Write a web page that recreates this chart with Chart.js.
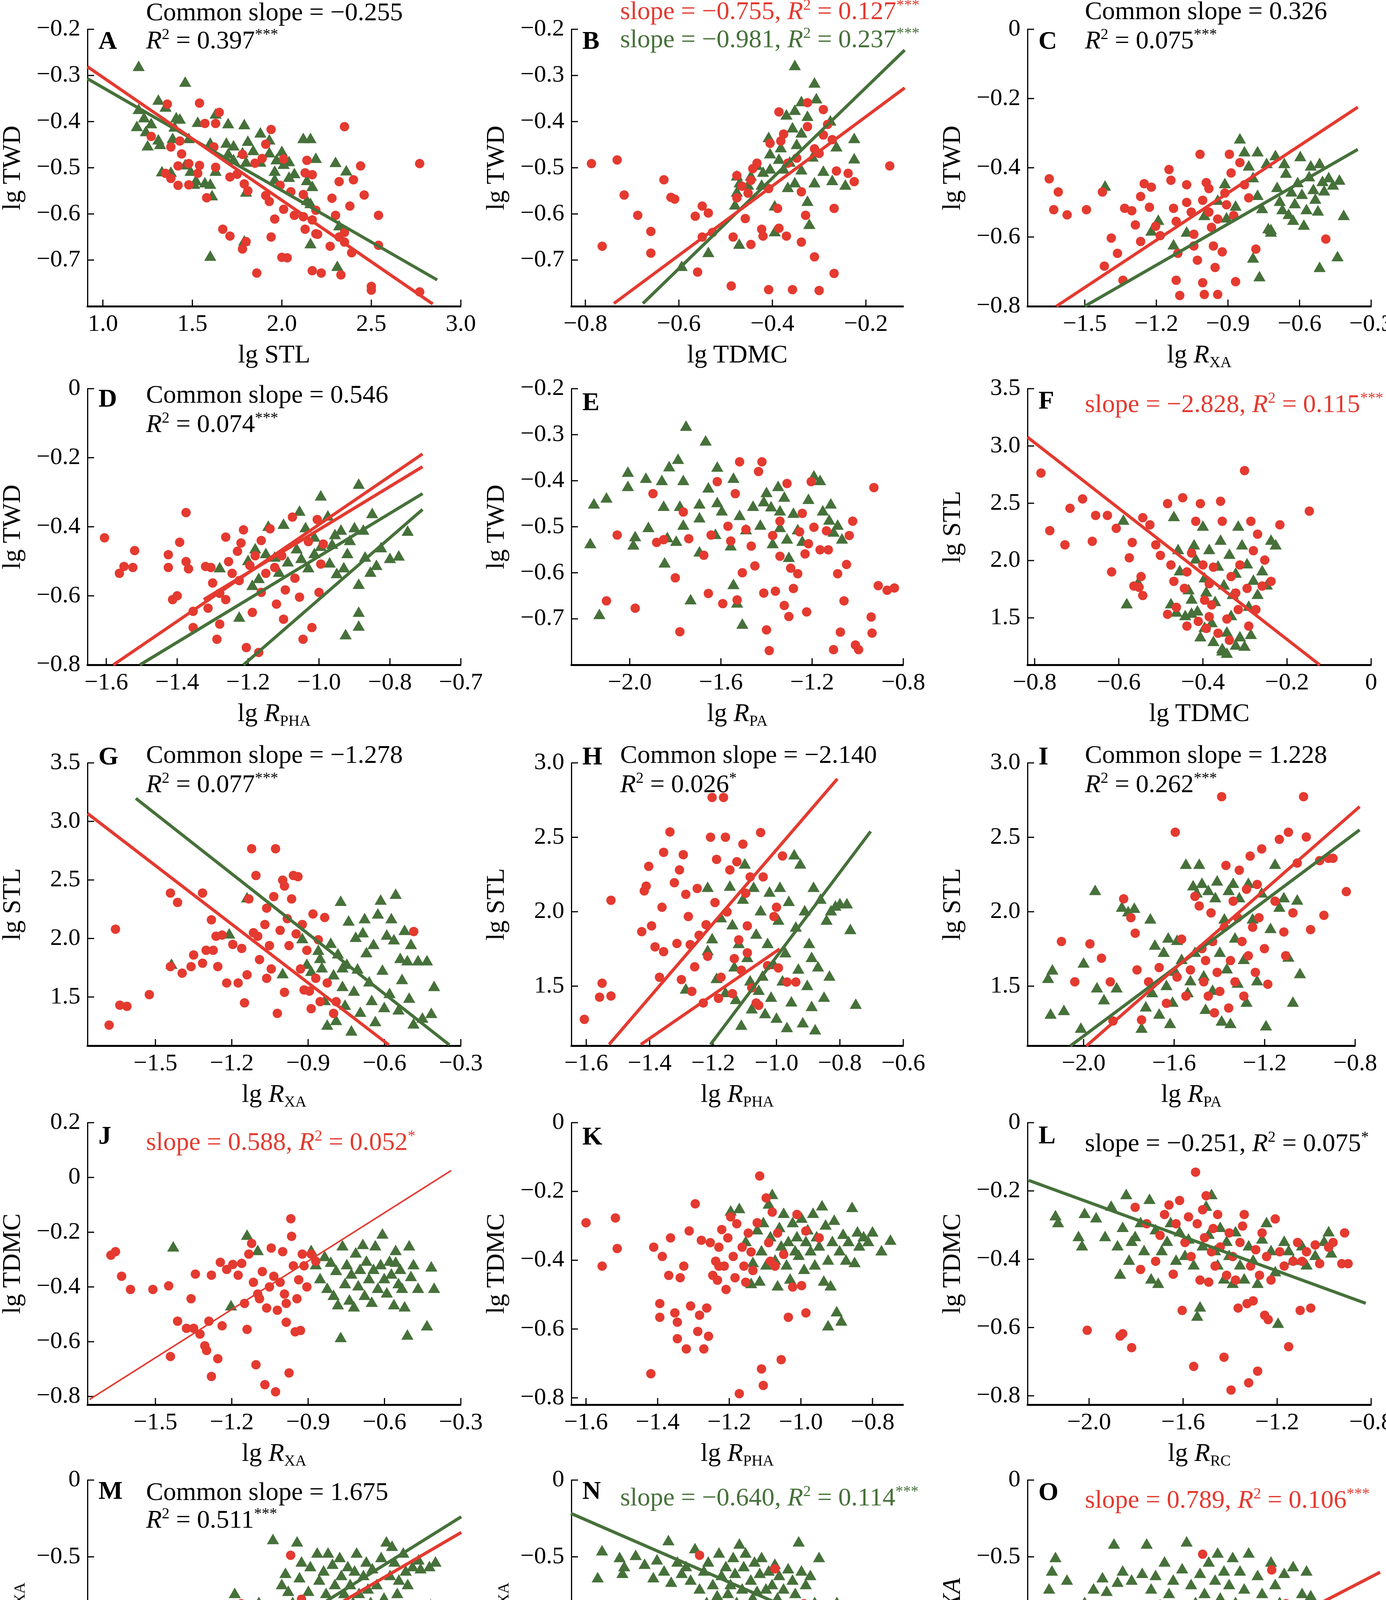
<!DOCTYPE html>
<html>
<head>
<meta charset="utf-8">
<script src="https://cdn.jsdelivr.net/npm/chart.js@4.4.0/dist/chart.umd.min.js"></script>
<style>
html, body { margin: 0; padding: 0; background: #fff; }
#page { position: relative; width: 3549px; height: 5561px; overflow: hidden; background: #fff; }
.txt { position: absolute; white-space: nowrap; line-height: 1; color: #000;
  font-family: 'Liberation Serif', 'Times New Roman', 'Noto Sans CJK SC', serif; }
.txt sup { font-size: 60%; vertical-align: 0.6em; line-height: 0; }
.txt sub { font-size: 60%; vertical-align: -0.3em; line-height: 0; }
</style>
</head>
<body>
<div id="page"></div>
<script>
const RED = '#E43A30';
const GREEN = '#46713A';
const FONT = "'Liberation Serif', 'Times New Roman', serif";

// ---- tick values ----
const tw_yTicks = [-0.2, -0.3, -0.4, -0.5, -0.6, -0.7];
const tw0_yTicks = [0, -0.2, -0.4, -0.6, -0.8];
const stl35_yTicks = [3.5, 3.0, 2.5, 2.0, 1.5];
const stl30_yTicks = [3.0, 2.5, 2.0, 1.5];
const rxa_yTicks = [0, -0.5, -1.0, -1.5];
const A_xTicks = [1.0, 1.5, 2.0, 2.5, 3.0];
const B_xTicks = [-0.8, -0.6, -0.4, -0.2];
const xa_xTicks = [-1.5, -1.2, -0.9, -0.6, -0.3];
const pha6_xTicks = [-1.6, -1.4, -1.2, -1.0, -0.8, -0.6];
const pha5_xTicks = [-1.6, -1.4, -1.2, -1.0, -0.8];
const r_xTicks = [-2.0, -1.6, -1.2, -0.8];
const F_xTicks = [-0.8, -0.6, -0.4, -0.2, 0];
const J_yTicks = [0.2, 0, -0.2, -0.4, -0.6, -0.8];
const P_yTicks = [-0.6, -0.8, -1.0, -1.2, -1.4, -1.6];
const Q_yTicks = [-0.5, -1.0, -1.5, -2.0];
const D_xLabels = ['−1.6', '−1.4', '−1.2', '−1.0', '−0.8', '−0.7'];

// ---- A: lg TWD vs lg STL ----
const A_annual = [[1.36,-0.362],[1.54,-0.360],[1.65,-0.380],[1.57,-0.404],[1.63,-0.404],[1.94,-0.417],[1.27,-0.432],[1.38,-0.455],[1.43,-0.442],[1.62,-0.455],[1.91,-0.449],[1.44,-0.470],[1.78,-0.471],[1.89,-0.480],[2.01,-0.481],[2.14,-0.484],[2.35,-0.411],[2.77,-0.491],[2.44,-0.496],[1.42,-0.496],[1.48,-0.491],[1.54,-0.495],[1.63,-0.499],[1.53,-0.512],[1.38,-0.523],[1.42,-0.538],[1.48,-0.537],[1.71,-0.520],[1.75,-0.514],[1.79,-0.535],[1.81,-0.550],[1.91,-0.560],[1.93,-0.573],[1.99,-0.538],[2.05,-0.552],[2.13,-0.511],[2.17,-0.515],[2.12,-0.558],[2.32,-0.530],[2.40,-0.526],[2.28,-0.566],[2.46,-0.559],[2.38,-0.583],[2.01,-0.590],[2.07,-0.603],[2.12,-0.606],[2.17,-0.613],[2.30,-0.603],[2.54,-0.603],[1.96,-0.611],[1.67,-0.633],[1.71,-0.648],[1.94,-0.650],[2.13,-0.633],[2.19,-0.643],[2.20,-0.644],[2.35,-0.640],[2.32,-0.650],[2.35,-0.661],[1.80,-0.660],[1.78,-0.676],[2.27,-0.670],[2.54,-0.668],[2.39,-0.684],[2.00,-0.694],[2.03,-0.695],[1.86,-0.728],[2.17,-0.723],[2.22,-0.728],[2.33,-0.732],[2.50,-0.765],[2.50,-0.757],[2.77,-0.769],[2.19,-0.592],[1.35,-0.512],[1.58,-0.565],[1.85,-0.490]];
const A_perennial = [[1.20,-0.283],[1.46,-0.317],[1.31,-0.356],[1.35,-0.371],[1.20,-0.376],[1.41,-0.394],[1.43,-0.397],[1.23,-0.394],[1.27,-0.407],[1.19,-0.413],[1.53,-0.404],[1.63,-0.386],[1.70,-0.407],[1.79,-0.409],[1.88,-0.427],[1.93,-0.442],[2.00,-0.467],[2.12,-0.439],[2.16,-0.439],[2.19,-0.482],[2.30,-0.491],[2.36,-0.509],[1.31,-0.442],[1.32,-0.452],[1.25,-0.455],[1.39,-0.439],[1.48,-0.439],[1.60,-0.449],[1.69,-0.449],[1.73,-0.455],[1.81,-0.445],[1.84,-0.465],[1.78,-0.470],[1.70,-0.472],[1.73,-0.485],[1.80,-0.490],[1.88,-0.490],[1.93,-0.470],[1.97,-0.485],[2.01,-0.495],[2.04,-0.489],[2.07,-0.515],[2.04,-0.523],[1.96,-0.510],[1.33,-0.511],[1.38,-0.512],[1.46,-0.496],[1.49,-0.510],[1.52,-0.530],[1.57,-0.535],[1.60,-0.538],[1.51,-0.538],[1.63,-0.510],[1.61,-0.563],[1.80,-0.555],[2.14,-0.530],[2.17,-0.543],[2.14,-0.573],[2.16,-0.580],[2.32,-0.628],[2.16,-0.667],[1.79,-0.661],[1.60,-0.694],[2.31,-0.716],[1.96,-0.528],[1.40,-0.414],[1.24,-0.424]];
const A_fitAnnual = [[0.914,-0.281],[2.843,-0.795]];
const A_fitPerennial = [[0.914,-0.307],[2.868,-0.743]];

// ---- B: lg TWD vs lg TDMC ----
const B_annual = [[-0.787,-0.491],[-0.732,-0.483],[-0.764,-0.670],[-0.717,-0.559],[-0.688,-0.603],[-0.660,-0.638],[-0.660,-0.685],[-0.632,-0.526],[-0.617,-0.564],[-0.609,-0.568],[-0.550,-0.583],[-0.537,-0.598],[-0.565,-0.605],[-0.560,-0.726],[-0.528,-0.640],[-0.550,-0.650],[-0.484,-0.650],[-0.488,-0.756],[-0.458,-0.610],[-0.476,-0.517],[-0.465,-0.540],[-0.446,-0.527],[-0.452,-0.555],[-0.442,-0.502],[-0.423,-0.633],[-0.420,-0.648],[-0.408,-0.764],[-0.446,-0.666],[-0.389,-0.588],[-0.386,-0.379],[-0.382,-0.442],[-0.386,-0.631],[-0.370,-0.648],[-0.357,-0.764],[-0.348,-0.479],[-0.338,-0.552],[-0.338,-0.661],[-0.329,-0.603],[-0.325,-0.411],[-0.310,-0.693],[-0.300,-0.766],[-0.300,-0.469],[-0.291,-0.429],[-0.282,-0.406],[-0.325,-0.359],[-0.291,-0.374],[-0.272,-0.439],[-0.268,-0.588],[-0.268,-0.729],[-0.263,-0.507],[-0.238,-0.512],[-0.225,-0.530],[-0.149,-0.496],[-0.376,-0.427],[-0.405,-0.447],[-0.433,-0.490],[-0.367,-0.490],[-0.310,-0.459],[-0.408,-0.545],[-0.476,-0.565]];
const B_perennial = [[-0.352,-0.281],[-0.310,-0.319],[-0.306,-0.353],[-0.338,-0.359],[-0.352,-0.378],[-0.370,-0.388],[-0.325,-0.391],[-0.276,-0.401],[-0.408,-0.437],[-0.357,-0.416],[-0.338,-0.427],[-0.225,-0.439],[-0.382,-0.459],[-0.348,-0.452],[-0.263,-0.457],[-0.405,-0.472],[-0.386,-0.484],[-0.363,-0.490],[-0.314,-0.479],[-0.225,-0.483],[-0.433,-0.497],[-0.405,-0.505],[-0.376,-0.505],[-0.338,-0.507],[-0.291,-0.510],[-0.420,-0.512],[-0.446,-0.520],[-0.476,-0.520],[-0.470,-0.535],[-0.452,-0.540],[-0.423,-0.540],[-0.352,-0.535],[-0.310,-0.535],[-0.272,-0.530],[-0.244,-0.540],[-0.476,-0.555],[-0.367,-0.545],[-0.325,-0.575],[-0.395,-0.585],[-0.480,-0.583],[-0.321,-0.625],[-0.471,-0.668],[-0.594,-0.716],[-0.537,-0.686],[-0.395,-0.641]];
const B_fitAnnual = [[-0.739,-0.794],[-0.117,-0.327]];
const B_fitPerennial = [[-0.677,-0.794],[-0.117,-0.245]];

// ---- C: lg TWD vs lg RXA ----
const C_annual = [[-1.649,-0.432],[-1.611,-0.470],[-1.630,-0.521],[-1.574,-0.536],[-1.493,-0.521],[-1.426,-0.470],[-1.389,-0.603],[-1.363,-0.647],[-1.418,-0.684],[-1.340,-0.725],[-1.333,-0.517],[-1.303,-0.524],[-1.288,-0.565],[-1.266,-0.613],[-1.251,-0.446],[-1.221,-0.456],[-1.266,-0.483],[-1.229,-0.514],[-1.203,-0.569],[-1.184,-0.596],[-1.147,-0.405],[-1.139,-0.436],[-1.128,-0.517],[-1.117,-0.555],[-1.110,-0.647],[-1.117,-0.725],[-1.102,-0.769],[-1.073,-0.449],[-1.054,-0.528],[-1.043,-0.592],[-1.043,-0.626],[-1.028,-0.667],[-1.017,-0.361],[-1.006,-0.494],[-1.006,-0.732],[-0.999,-0.766],[-0.991,-0.443],[-0.980,-0.528],[-0.969,-0.572],[-0.961,-0.626],[-0.954,-0.688],[-0.943,-0.766],[-0.924,-0.643],[-0.913,-0.473],[-0.906,-0.507],[-0.894,-0.361],[-0.887,-0.415],[-0.876,-0.538],[-0.868,-0.729],[-0.850,-0.385],[-0.831,-0.449],[-0.783,-0.635],[-0.813,-0.487],[-0.490,-0.606],[-0.980,-0.460],[-1.073,-0.500],[-0.943,-0.548]];
const C_perennial = [[-1.415,-0.456],[-1.192,-0.555],[-1.221,-0.586],[-1.128,-0.626],[-1.073,-0.589],[-0.999,-0.541],[-0.943,-0.497],[-0.913,-0.449],[-0.850,-0.320],[-0.831,-0.357],[-0.813,-0.398],[-0.795,-0.432],[-0.776,-0.483],[-0.757,-0.521],[-0.738,-0.391],[-0.731,-0.579],[-0.720,-0.582],[-0.701,-0.368],[-0.694,-0.460],[-0.683,-0.500],[-0.664,-0.391],[-0.657,-0.419],[-0.646,-0.538],[-0.634,-0.473],[-0.627,-0.555],[-0.620,-0.507],[-0.608,-0.446],[-0.597,-0.371],[-0.590,-0.480],[-0.582,-0.569],[-0.571,-0.524],[-0.560,-0.429],[-0.553,-0.398],[-0.542,-0.466],[-0.534,-0.494],[-0.523,-0.528],[-0.516,-0.391],[-0.504,-0.443],[-0.497,-0.470],[-0.478,-0.432],[-0.460,-0.453],[-0.433,-0.439],[-0.415,-0.541],[-0.441,-0.660],[-0.516,-0.691],[-0.768,-0.718],[-0.795,-0.664],[-0.720,-0.589],[-0.868,-0.514],[-0.776,-0.357],[-0.672,-0.524],[-0.906,-0.548]];
const C_fitAnnual = [[-1.619,-0.8],[-0.356,-0.225]];
const C_fitPerennial = [[-1.5,-0.8],[-0.356,-0.347]];

// ---- D: lg TWD vs lg RPHA ----
const D_annual = [[-1.605,-0.432],[-1.563,-0.535],[-1.550,-0.515],[-1.525,-0.518],[-1.520,-0.469],[-1.425,-0.481],[-1.425,-0.518],[-1.413,-0.611],[-1.400,-0.600],[-1.393,-0.445],[-1.375,-0.359],[-1.375,-0.501],[-1.368,-0.522],[-1.355,-0.645],[-1.355,-0.692],[-1.320,-0.515],[-1.313,-0.636],[-1.305,-0.518],[-1.300,-0.563],[-1.288,-0.726],[-1.280,-0.682],[-1.280,-0.593],[-1.263,-0.430],[-1.255,-0.501],[-1.245,-0.535],[-1.230,-0.471],[-1.220,-0.447],[-1.213,-0.409],[-1.205,-0.750],[-1.195,-0.512],[-1.188,-0.648],[-1.180,-0.484],[-1.170,-0.764],[-1.163,-0.440],[-1.150,-0.535],[-1.138,-0.406],[-1.125,-0.518],[-1.120,-0.624],[-1.105,-0.484],[-1.100,-0.668],[-1.095,-0.583],[-1.075,-0.372],[-1.068,-0.549],[-1.055,-0.604],[-1.045,-0.726],[-1.030,-0.443],[-1.020,-0.692],[-1.005,-0.379],[-1.000,-0.590],[-0.988,-0.450],[-0.995,-0.508],[-1.163,-0.590],[-1.225,-0.556],[-1.263,-0.611]];
const D_perennial = [[-0.888,-0.280],[-0.995,-0.314],[-1.143,-0.402],[-1.100,-0.396],[-1.055,-0.358],[-1.038,-0.406],[-0.975,-0.372],[-0.955,-0.426],[-0.938,-0.413],[-0.900,-0.406],[-0.875,-0.413],[-0.850,-0.365],[-0.750,-0.416],[-0.775,-0.488],[-0.800,-0.495],[-0.838,-0.515],[-0.855,-0.535],[-0.825,-0.464],[-0.888,-0.570],[-0.920,-0.481],[-0.930,-0.522],[-0.950,-0.539],[-0.995,-0.460],[-1.013,-0.481],[-1.030,-0.522],[-1.063,-0.467],[-1.088,-0.505],[-1.113,-0.535],[-1.150,-0.481],[-1.170,-0.553],[-1.188,-0.573],[-1.225,-0.665],[-1.280,-0.522],[-1.180,-0.467],[-0.888,-0.651],[-0.888,-0.691],[-0.925,-0.716],[-1.013,-0.433],[-0.963,-0.454],[-0.913,-0.443],[-0.870,-0.491],[-0.970,-0.508],[-1.050,-0.495],[-1.125,-0.491],[-1.200,-0.501]];
const D_fitAnnual1 = [[-1.580,-0.8],[-0.708,-0.189]];
const D_fitAnnual2 = [[-1.325,-0.611],[-0.708,-0.226]];
const D_fitPerennial1 = [[-1.505,-0.8],[-0.708,-0.304]];
const D_fitPerennial2 = [[-1.213,-0.8],[-0.708,-0.350]];

// ---- E: lg TWD vs lg RPA ----
const E_annual = [[-2.055,-0.518],[-1.976,-0.677],[-2.102,-0.661],[-1.898,-0.428],[-1.851,-0.528],[-1.882,-0.534],[-1.800,-0.611],[-1.780,-0.728],[-1.765,-0.468],[-1.741,-0.526],[-1.675,-0.562],[-1.655,-0.645],[-1.643,-0.518],[-1.616,-0.402],[-1.592,-0.667],[-1.569,-0.499],[-1.557,-0.531],[-1.537,-0.428],[-1.529,-0.659],[-1.518,-0.359],[-1.506,-0.600],[-1.490,-0.506],[-1.467,-0.542],[-1.451,-0.585],[-1.435,-0.380],[-1.420,-0.359],[-1.412,-0.644],[-1.400,-0.724],[-1.388,-0.769],[-1.373,-0.519],[-1.361,-0.640],[-1.341,-0.564],[-1.322,-0.671],[-1.310,-0.406],[-1.302,-0.695],[-1.294,-0.590],[-1.282,-0.634],[-1.263,-0.602],[-1.255,-0.511],[-1.243,-0.471],[-1.231,-0.559],[-1.224,-0.685],[-1.216,-0.537],[-1.204,-0.402],[-1.192,-0.501],[-1.165,-0.550],[-1.137,-0.509],[-1.129,-0.550],[-1.106,-0.767],[-1.088,-0.602],[-1.076,-0.729],[-1.060,-0.661],[-1.049,-0.582],[-1.037,-0.519],[-1.022,-0.488],[-1.010,-0.757],[-0.996,-0.767],[-0.941,-0.696],[-0.937,-0.731],[-0.929,-0.415],[-0.910,-0.628],[-0.871,-0.638],[-0.839,-0.633],[-1.341,-0.488]];
const E_perennial = [[-1.753,-0.284],[-1.667,-0.316],[-1.788,-0.356],[-1.827,-0.372],[-1.616,-0.373],[-2.008,-0.384],[-1.929,-0.397],[-2.008,-0.415],[-2.102,-0.440],[-2.157,-0.453],[-1.859,-0.402],[-1.765,-0.402],[-1.655,-0.418],[-1.545,-0.397],[-1.851,-0.458],[-1.780,-0.458],[-1.694,-0.453],[-1.616,-0.450],[-1.918,-0.504],[-1.976,-0.524],[-1.984,-0.542],[-2.173,-0.539],[-1.835,-0.526],[-1.796,-0.534],[-1.694,-0.557],[-1.847,-0.581],[-1.765,-0.499],[-1.694,-0.483],[-1.624,-0.519],[-1.596,-0.468],[-1.557,-0.544],[-1.518,-0.478],[-1.490,-0.509],[-1.459,-0.458],[-1.427,-0.499],[-1.412,-0.448],[-1.400,-0.428],[-1.380,-0.459],[-1.373,-0.539],[-1.349,-0.415],[-1.341,-0.504],[-1.322,-0.438],[-1.310,-0.529],[-1.302,-0.569],[-1.282,-0.473],[-1.263,-0.509],[-1.243,-0.534],[-1.216,-0.443],[-1.192,-0.392],[-1.165,-0.402],[-1.153,-0.468],[-1.125,-0.488],[-1.106,-0.514],[-1.088,-0.499],[-1.069,-0.529],[-1.118,-0.453],[-1.545,-0.628],[-1.733,-0.661],[-1.529,-0.668],[-1.506,-0.714],[-2.133,-0.693],[-1.341,-0.468]];

// ---- F: lg STL vs lg TDMC ----
const F_annual = [[-0.785,2.764],[-0.764,2.261],[-0.728,2.137],[-0.716,2.456],[-0.686,2.538],[-0.655,2.394],[-0.663,2.168],[-0.627,2.394],[-0.617,1.901],[-0.606,2.281],[-0.575,2.024],[-0.568,2.158],[-0.564,1.778],[-0.552,1.767],[-0.547,1.860],[-0.543,1.695],[-0.543,2.374],[-0.526,2.312],[-0.512,2.137],[-0.501,2.045],[-0.484,2.497],[-0.476,1.962],[-0.469,1.819],[-0.463,1.592],[-0.448,2.548],[-0.444,1.757],[-0.438,1.901],[-0.427,2.066],[-0.417,2.343],[-0.411,1.469],[-0.406,2.497],[-0.400,1.962],[-0.396,1.654],[-0.392,1.408],[-0.385,1.798],[-0.379,1.613],[-0.375,1.942],[-0.364,1.366],[-0.358,2.517],[-0.354,2.343],[-0.343,1.490],[-0.337,1.305],[-0.333,1.860],[-0.322,1.716],[-0.316,1.572],[-0.312,1.962],[-0.301,2.785],[-0.295,1.757],[-0.291,1.428],[-0.286,2.343],[-0.280,2.086],[-0.274,1.572],[-0.270,2.230],[-0.259,1.778],[-0.253,2.004],[-0.238,1.819],[-0.217,2.312],[-0.147,2.431],[-0.438,1.428],[-0.484,1.531],[-0.385,1.510]];
const F_perennial = [[-0.589,2.343],[-0.581,1.613],[-0.554,1.798],[-0.476,1.613],[-0.469,2.374],[-0.463,1.541],[-0.459,2.086],[-0.455,1.901],[-0.442,1.510],[-0.434,1.736],[-0.427,1.654],[-0.421,2.127],[-0.417,2.004],[-0.413,1.551],[-0.406,1.325],[-0.400,2.291],[-0.396,1.840],[-0.392,1.716],[-0.385,2.086],[-0.379,1.449],[-0.375,1.284],[-0.371,1.633],[-0.364,1.942],[-0.358,2.168],[-0.354,1.222],[-0.350,1.778],[-0.343,1.366],[-0.337,2.045],[-0.333,1.510],[-0.329,1.695],[-0.322,1.880],[-0.316,2.291],[-0.312,1.325],[-0.307,2.127],[-0.301,1.243],[-0.295,1.962],[-0.291,1.592],[-0.286,1.346],[-0.280,1.819],[-0.270,1.695],[-0.259,1.901],[-0.248,1.778],[-0.238,2.168],[-0.227,2.127],[-0.354,1.202],[-0.343,1.181],[-0.322,1.253],[-0.396,1.408],[-0.427,1.531]];
const F_fitAnnual = [[-0.817,3.077],[-0.122,1.089]];

// ---- G: lg STL vs lg RXA ----
const G_annual = [[-1.682,1.260],[-1.640,1.430],[-1.612,1.420],[-1.657,2.079],[-1.524,1.520],[-1.441,1.760],[-1.441,2.388],[-1.413,2.308],[-1.395,1.704],[-1.360,1.760],[-1.350,1.859],[-1.315,1.789],[-1.315,2.388],[-1.301,1.899],[-1.280,2.159],[-1.273,1.899],[-1.262,2.019],[-1.255,1.760],[-1.238,2.029],[-1.220,1.620],[-1.196,1.949],[-1.175,1.620],[-1.161,1.915],[-1.150,1.450],[-1.140,1.690],[-1.133,2.338],[-1.122,2.767],[-1.115,2.049],[-1.105,2.538],[-1.098,2.019],[-1.091,1.820],[-1.070,2.119],[-1.063,2.259],[-1.052,1.939],[-1.045,1.740],[-1.035,2.358],[-1.028,2.767],[-1.021,1.360],[-1.010,2.069],[-1.000,2.498],[-0.993,2.448],[-0.982,2.169],[-0.975,1.939],[-0.965,2.338],[-0.958,2.538],[-0.947,2.039],[-0.940,2.528],[-0.930,1.740],[-0.923,2.119],[-0.916,1.560],[-0.905,1.899],[-0.895,1.550],[-0.888,1.400],[-0.881,2.209],[-0.870,1.660],[-0.860,1.989],[-0.853,1.460],[-0.835,2.179],[-0.825,1.620],[-0.800,1.360],[-0.790,1.460],[-0.485,2.059],[-0.993,1.540],[-1.063,1.660]];
const G_perennial = [[-1.437,1.770],[-1.210,2.029],[-1.140,2.338],[-1.000,1.690],[-0.923,1.989],[-0.905,1.770],[-0.888,1.710],[-0.860,1.889],[-0.846,1.740],[-0.835,1.460],[-0.825,1.250],[-0.811,1.949],[-0.800,1.680],[-0.790,1.290],[-0.783,1.859],[-0.772,2.308],[-0.765,1.580],[-0.755,1.420],[-0.748,1.770],[-0.741,2.139],[-0.730,1.200],[-0.720,1.540],[-0.713,2.000],[-0.706,1.730],[-0.695,1.360],[-0.685,2.039],[-0.678,2.159],[-0.671,1.869],[-0.660,1.620],[-0.650,1.460],[-0.643,1.939],[-0.636,1.280],[-0.626,2.199],[-0.615,2.318],[-0.608,1.720],[-0.601,1.400],[-0.591,2.019],[-0.580,1.520],[-0.573,2.159],[-0.563,1.979],[-0.556,2.368],[-0.545,1.380],[-0.538,1.820],[-0.531,1.640],[-0.521,2.059],[-0.510,1.800],[-0.503,1.480],[-0.496,1.939],[-0.486,1.260],[-0.468,1.800],[-0.451,1.310],[-0.433,1.800],[-0.416,1.350],[-0.405,1.580],[-0.765,1.740],[-0.853,1.820]];
const G_fitAnnual = [[-1.766,3.067],[-0.583,1.091]];
const G_fitPerennial = [[-1.577,3.197],[-0.345,1.091]];

// ---- H: lg STL vs lg RPHA ----
const H_annual = [[-1.606,1.277],[-1.558,1.426],[-1.550,1.520],[-1.522,1.434],[-1.522,2.077],[-1.425,1.866],[-1.417,2.140],[-1.411,2.172],[-1.403,2.305],[-1.394,1.905],[-1.383,1.764],[-1.369,1.560],[-1.361,2.030],[-1.356,1.732],[-1.356,2.399],[-1.336,2.536],[-1.322,2.195],[-1.314,1.787],[-1.306,2.281],[-1.300,1.544],[-1.294,2.383],[-1.286,2.117],[-1.278,1.968],[-1.272,1.779],[-1.267,1.465],[-1.258,1.630],[-1.250,2.156],[-1.244,1.842],[-1.231,1.387],[-1.222,1.913],[-1.217,1.701],[-1.208,2.501],[-1.203,2.768],[-1.194,2.062],[-1.189,2.352],[-1.183,1.418],[-1.175,1.560],[-1.167,2.768],[-1.161,2.501],[-1.156,1.999],[-1.147,2.281],[-1.139,1.450],[-1.133,1.685],[-1.125,2.336],[-1.119,1.811],[-1.111,1.607],[-1.106,2.454],[-1.097,2.124],[-1.092,1.724],[-1.083,2.234],[-1.078,1.489],[-1.064,1.387],[-1.056,1.371],[-1.050,2.532],[-1.042,2.234],[-1.028,1.638],[-1.008,1.968],[-1.000,2.030],[-0.994,1.622],[-0.981,2.375],[-0.967,1.528],[-0.939,1.528],[-1.092,1.905]];
const H_perennial = [[-1.286,1.473],[-1.217,2.156],[-1.217,1.732],[-1.203,1.811],[-1.189,1.544],[-1.175,1.952],[-1.161,1.450],[-1.147,2.164],[-1.139,1.905],[-1.133,1.622],[-1.128,1.403],[-1.119,1.779],[-1.111,1.230],[-1.106,2.077],[-1.100,2.313],[-1.092,1.685],[-1.083,1.528],[-1.078,1.340],[-1.072,2.156],[-1.064,1.842],[-1.056,1.465],[-1.050,1.999],[-1.044,1.560],[-1.036,1.308],[-1.028,1.779],[-1.022,2.124],[-1.017,1.418],[-1.008,1.638],[-1.000,1.277],[-0.994,1.936],[-0.989,2.156],[-0.981,1.528],[-0.972,1.717],[-0.967,1.214],[-0.961,2.062],[-0.953,1.387],[-0.944,2.375],[-0.939,1.889],[-0.931,1.607],[-0.925,2.313],[-0.917,1.246],[-0.911,1.999],[-0.903,1.497],[-0.897,1.779],[-0.889,1.356],[-0.883,2.156],[-0.878,1.199],[-0.869,1.622],[-0.861,2.077],[-0.850,1.418],[-0.842,1.936],[-0.833,1.560],[-0.828,1.999],[-0.814,2.030],[-0.800,2.046],[-0.778,2.046],[-0.767,1.873],[-0.750,1.371],[-0.889,1.685]];
const H_fitAnnual1 = [[-1.528,1.108],[-0.808,2.893]];
const H_fitAnnual2 = [[-1.428,1.108],[-0.990,1.750]];
const H_fitPerennial = [[-1.208,1.108],[-0.703,2.540]];

// ---- I: lg STL vs lg RPA ----
const I_annual = [[-2.098,1.800],[-1.972,1.784],[-1.921,1.688],[-2.039,1.529],[-1.882,1.529],[-1.870,1.266],[-1.823,2.087],[-1.791,1.960],[-1.772,1.856],[-1.764,1.609],[-1.744,1.273],[-1.713,1.529],[-1.666,1.625],[-1.634,1.385],[-1.595,2.534],[-1.587,1.561],[-1.567,1.816],[-1.548,1.433],[-1.528,1.609],[-1.508,2.103],[-1.489,2.039],[-1.477,1.752],[-1.469,1.529],[-1.461,1.672],[-1.449,1.433],[-1.437,1.992],[-1.430,1.800],[-1.422,1.321],[-1.410,1.593],[-1.398,1.465],[-1.390,2.773],[-1.378,1.896],[-1.371,2.311],[-1.359,1.353],[-1.351,1.672],[-1.339,2.071],[-1.331,1.529],[-1.319,1.960],[-1.312,2.279],[-1.300,1.800],[-1.292,1.433],[-1.280,2.151],[-1.272,1.704],[-1.264,2.374],[-1.253,1.896],[-1.241,1.593],[-1.233,2.183],[-1.225,1.960],[-1.213,2.422],[-1.201,1.752],[-1.186,1.513],[-1.154,2.071],[-1.135,2.486],[-1.115,1.864],[-1.095,2.534],[-1.075,1.992],[-1.056,2.327],[-1.028,2.773],[-1.016,2.502],[-0.997,1.880],[-0.957,2.343],[-0.938,1.976],[-0.918,2.359],[-0.898,2.359],[-0.839,2.135],[-1.107,1.704]];
const I_perennial = [[-2.157,1.545],[-2.138,1.601],[-2.146,1.305],[-2.087,1.329],[-2.012,1.210],[-2.000,1.648],[-1.949,2.135],[-1.941,1.481],[-1.910,1.401],[-1.854,1.481],[-1.831,2.023],[-1.803,1.992],[-1.776,2.016],[-1.744,1.210],[-1.725,1.353],[-1.705,1.944],[-1.697,1.449],[-1.685,1.768],[-1.666,1.305],[-1.646,1.720],[-1.634,1.497],[-1.626,1.816],[-1.618,1.242],[-1.607,1.385],[-1.595,1.593],[-1.587,1.800],[-1.567,1.672],[-1.548,2.311],[-1.540,1.449],[-1.528,1.529],[-1.516,2.167],[-1.508,1.720],[-1.500,2.119],[-1.489,2.311],[-1.477,2.183],[-1.469,1.561],[-1.461,1.337],[-1.449,2.135],[-1.437,1.800],[-1.430,1.465],[-1.418,2.087],[-1.410,2.199],[-1.398,1.720],[-1.390,1.258],[-1.378,1.944],[-1.367,1.609],[-1.359,2.135],[-1.351,1.242],[-1.339,2.183],[-1.331,1.816],[-1.319,1.513],[-1.312,2.087],[-1.292,1.672],[-1.280,1.385],[-1.272,2.183],[-1.253,1.944],[-1.233,1.529],[-1.213,2.119],[-1.194,1.226],[-1.174,1.880],[-1.154,2.311],[-1.135,2.023],[-1.115,2.087],[-1.095,1.688],[-1.075,1.385],[-1.056,2.071],[-1.044,1.577]];
const I_fitAnnual = [[-1.988,1.098],[-0.780,2.706]];
const I_fitPerennial = [[-2.059,1.098],[-0.780,2.550]];

// ---- J: lg TDMC vs lg RXA ----
const J_annual = [[-1.675,-0.284],[-1.657,-0.271],[-1.633,-0.361],[-1.598,-0.409],[-1.510,-0.409],[-1.441,-0.654],[-1.448,-0.396],[-1.413,-0.525],[-1.378,-0.551],[-1.360,-0.443],[-1.350,-0.551],[-1.343,-0.353],[-1.325,-0.572],[-1.306,-0.615],[-1.299,-0.632],[-1.290,-0.525],[-1.280,-0.357],[-1.280,-0.727],[-1.255,-0.662],[-1.245,-0.310],[-1.238,-0.542],[-1.220,-0.336],[-1.196,-0.318],[-1.175,-0.357],[-1.161,-0.314],[-1.150,-0.460],[-1.140,-0.555],[-1.133,-0.280],[-1.122,-0.241],[-1.115,-0.383],[-1.105,-0.684],[-1.098,-0.426],[-1.091,-0.443],[-1.080,-0.344],[-1.070,-0.757],[-1.063,-0.477],[-1.052,-0.400],[-1.045,-0.258],[-1.035,-0.361],[-1.028,-0.783],[-1.021,-0.485],[-1.010,-0.383],[-1.000,-0.271],[-0.993,-0.426],[-0.986,-0.460],[-0.975,-0.714],[-0.968,-0.151],[-0.965,-0.215],[-0.958,-0.323],[-0.951,-0.564],[-0.944,-0.443],[-0.937,-0.374],[-0.930,-0.559],[-0.923,-0.280],[-0.916,-0.323],[-0.905,-0.400],[-0.888,-0.280],[-0.870,-0.306],[-0.986,-0.529]];
const J_perennial = [[-1.430,-0.258],[-1.203,-0.473],[-1.140,-0.215],[-1.098,-0.271],[-0.888,-0.271],[-0.870,-0.323],[-0.853,-0.374],[-0.835,-0.293],[-0.825,-0.409],[-0.811,-0.314],[-0.800,-0.435],[-0.790,-0.344],[-0.783,-0.469],[-0.772,-0.589],[-0.765,-0.254],[-0.755,-0.392],[-0.748,-0.323],[-0.738,-0.452],[-0.730,-0.357],[-0.720,-0.477],[-0.713,-0.280],[-0.703,-0.400],[-0.696,-0.340],[-0.685,-0.249],[-0.678,-0.435],[-0.671,-0.310],[-0.661,-0.374],[-0.650,-0.460],[-0.643,-0.340],[-0.636,-0.254],[-0.626,-0.409],[-0.615,-0.323],[-0.608,-0.211],[-0.601,-0.374],[-0.591,-0.426],[-0.580,-0.310],[-0.573,-0.357],[-0.563,-0.469],[-0.556,-0.271],[-0.545,-0.392],[-0.538,-0.340],[-0.531,-0.409],[-0.521,-0.477],[-0.510,-0.580],[-0.503,-0.254],[-0.496,-0.366],[-0.486,-0.323],[-0.468,-0.409],[-0.433,-0.546],[-0.416,-0.331],[-0.405,-0.409],[-0.556,-0.314]];
const J_fitAnnual = [[-1.759,-0.811],[-0.338,0.025]];

// ---- K: lg TDMC vs lg RPHA ----
const K_annual = [[-1.600,-0.291],[-1.518,-0.277],[-1.513,-0.366],[-1.555,-0.417],[-1.419,-0.730],[-1.411,-0.362],[-1.394,-0.526],[-1.394,-0.566],[-1.387,-0.389],[-1.369,-0.444],[-1.364,-0.335],[-1.352,-0.553],[-1.345,-0.628],[-1.345,-0.580],[-1.337,-0.451],[-1.327,-0.417],[-1.320,-0.658],[-1.312,-0.315],[-1.308,-0.533],[-1.295,-0.236],[-1.288,-0.607],[-1.283,-0.560],[-1.278,-0.342],[-1.271,-0.658],[-1.263,-0.539],[-1.258,-0.621],[-1.253,-0.349],[-1.246,-0.444],[-1.238,-0.403],[-1.233,-0.458],[-1.229,-0.362],[-1.221,-0.311],[-1.214,-0.417],[-1.209,-0.485],[-1.204,-0.335],[-1.196,-0.274],[-1.189,-0.389],[-1.184,-0.451],[-1.179,-0.294],[-1.172,-0.788],[-1.164,-0.362],[-1.159,-0.417],[-1.154,-0.464],[-1.147,-0.321],[-1.139,-0.376],[-1.134,-0.430],[-1.122,-0.291],[-1.115,-0.155],[-1.110,-0.716],[-1.105,-0.764],[-1.097,-0.219],[-1.090,-0.349],[-1.085,-0.403],[-1.080,-0.260],[-1.072,-0.417],[-1.065,-0.321],[-1.055,-0.689],[-1.048,-0.383],[-1.035,-0.566],[-1.023,-0.478],[-1.011,-0.267],[-0.998,-0.474],[-0.986,-0.553],[-0.949,-0.335],[-0.986,-0.315],[-1.229,-0.417]];
const K_perennial = [[-1.196,-0.260],[-1.172,-0.253],[-1.154,-0.349],[-1.139,-0.471],[-1.134,-0.410],[-1.122,-0.315],[-1.115,-0.464],[-1.110,-0.376],[-1.105,-0.294],[-1.097,-0.417],[-1.090,-0.240],[-1.085,-0.335],[-1.080,-0.212],[-1.072,-0.403],[-1.065,-0.478],[-1.060,-0.308],[-1.055,-0.362],[-1.048,-0.267],[-1.040,-0.417],[-1.035,-0.349],[-1.030,-0.458],[-1.023,-0.294],[-1.016,-0.376],[-1.011,-0.335],[-1.006,-0.389],[-0.998,-0.281],[-0.991,-0.430],[-0.986,-0.349],[-0.981,-0.315],[-0.973,-0.376],[-0.966,-0.267],[-0.961,-0.417],[-0.956,-0.335],[-0.949,-0.362],[-0.941,-0.245],[-0.936,-0.464],[-0.931,-0.301],[-0.924,-0.403],[-0.917,-0.478],[-0.912,-0.349],[-0.907,-0.287],[-0.900,-0.553],[-0.892,-0.376],[-0.887,-0.580],[-0.882,-0.328],[-0.874,-0.403],[-0.867,-0.349],[-0.857,-0.250],[-0.850,-0.410],[-0.842,-0.321],[-0.837,-0.362],[-0.825,-0.335],[-0.812,-0.349],[-0.775,-0.376],[-0.750,-0.345],[-0.800,-0.321],[-0.924,-0.594]];

// ---- L: lg TDMC vs lg RRC ----
const L_annual = [[-2.008,-0.608],[-1.868,-0.625],[-1.857,-0.618],[-1.819,-0.659],[-1.804,-0.248],[-1.781,-0.430],[-1.755,-0.296],[-1.717,-0.406],[-1.698,-0.330],[-1.679,-0.269],[-1.660,-0.241],[-1.642,-0.444],[-1.630,-0.296],[-1.615,-0.228],[-1.604,-0.550],[-1.592,-0.351],[-1.577,-0.276],[-1.566,-0.392],[-1.555,-0.714],[-1.547,-0.145],[-1.540,-0.296],[-1.528,-0.461],[-1.517,-0.255],[-1.509,-0.337],[-1.502,-0.214],[-1.491,-0.467],[-1.479,-0.378],[-1.472,-0.310],[-1.464,-0.420],[-1.453,-0.269],[-1.442,-0.364],[-1.426,-0.687],[-1.415,-0.447],[-1.404,-0.323],[-1.396,-0.783],[-1.389,-0.392],[-1.377,-0.461],[-1.366,-0.543],[-1.358,-0.351],[-1.347,-0.303],[-1.340,-0.269],[-1.328,-0.530],[-1.321,-0.762],[-1.313,-0.420],[-1.302,-0.522],[-1.291,-0.372],[-1.283,-0.728],[-1.275,-0.447],[-1.264,-0.323],[-1.253,-0.564],[-1.245,-0.392],[-1.238,-0.577],[-1.226,-0.461],[-1.208,-0.282],[-1.189,-0.378],[-1.170,-0.420],[-1.151,-0.656],[-1.132,-0.406],[-1.113,-0.351],[-1.102,-0.550],[-1.094,-0.406],[-1.075,-0.378],[-1.057,-0.543],[-1.038,-0.358],[-1.019,-0.413],[-0.981,-0.365],[-0.962,-0.351],[-0.925,-0.413],[-0.913,-0.323],[-0.898,-0.413]];
const L_perennial = [[-2.143,-0.276],[-2.132,-0.296],[-2.045,-0.337],[-2.030,-0.364],[-2.019,-0.269],[-1.970,-0.282],[-1.932,-0.337],[-1.906,-0.248],[-1.879,-0.364],[-1.868,-0.447],[-1.857,-0.310],[-1.842,-0.214],[-1.830,-0.406],[-1.819,-0.351],[-1.804,-0.337],[-1.781,-0.296],[-1.766,-0.378],[-1.743,-0.228],[-1.736,-0.461],[-1.717,-0.317],[-1.706,-0.474],[-1.691,-0.378],[-1.668,-0.351],[-1.653,-0.296],[-1.630,-0.406],[-1.615,-0.323],[-1.592,-0.392],[-1.577,-0.344],[-1.555,-0.420],[-1.540,-0.570],[-1.528,-0.543],[-1.517,-0.364],[-1.502,-0.248],[-1.491,-0.330],[-1.479,-0.214],[-1.464,-0.378],[-1.453,-0.420],[-1.442,-0.310],[-1.426,-0.461],[-1.415,-0.351],[-1.404,-0.392],[-1.389,-0.474],[-1.377,-0.323],[-1.358,-0.420],[-1.340,-0.461],[-1.321,-0.364],[-1.302,-0.406],[-1.283,-0.474],[-1.264,-0.344],[-1.245,-0.296],[-1.226,-0.378],[-1.208,-0.440],[-1.196,-0.591],[-1.170,-0.351],[-1.151,-0.378],[-1.132,-0.406],[-1.094,-0.364],[-1.075,-0.420],[-1.038,-0.392],[-1.000,-0.351],[-0.981,-0.323],[-0.970,-0.385]];
const L_fitPerennial = [[-2.257,-0.169],[-0.823,-0.529]];

// ---- M: lg RXA vs lg RPHA ----
const M_annual = [[-1.598,-1.668],[-1.549,-1.595],[-1.544,-1.515],[-1.517,-1.639],[-1.510,-1.625],[-1.417,-1.288],[-1.406,-1.332],[-1.395,-1.412],[-1.388,-1.149],[-1.373,-1.368],[-1.362,-1.149],[-1.355,-0.907],[-1.346,-1.390],[-1.333,-0.951],[-1.320,-1.266],[-1.307,-0.973],[-1.296,-1.127],[-1.284,-1.302],[-1.278,-1.354],[-1.267,-0.937],[-1.263,-1.442],[-1.258,-0.805],[-1.252,-1.010],[-1.241,-1.273],[-1.229,-0.900],[-1.223,-1.442],[-1.219,-1.215],[-1.214,-0.834],[-1.208,-0.951],[-1.201,-1.083],[-1.197,-0.863],[-1.190,-1.141],[-1.186,-0.981],[-1.179,-1.215],[-1.175,-0.893],[-1.170,-1.068],[-1.163,-1.156],[-1.157,-0.951],[-1.152,-1.244],[-1.141,-1.039],[-1.135,-0.878],[-1.130,-1.112],[-1.119,-1.215],[-1.113,-0.951],[-1.108,-0.776],[-1.104,-1.039],[-1.097,-1.127],[-1.091,-0.922],[-1.086,-1.068],[-1.080,-0.995],[-1.075,-1.156],[-1.069,-0.863],[-1.064,-1.054],[-1.053,-0.951],[-1.042,-1.098],[-1.031,-1.010],[-1.020,-0.922],[-1.009,-1.054],[-0.998,-0.981],[-0.987,-0.995],[-0.976,-1.141],[-0.954,-0.966],[-1.135,-0.490],[-1.060,-1.054]];
const M_perennial = [[-1.274,-0.746],[-1.197,-1.420],[-1.214,-0.805],[-1.179,-0.395],[-1.168,-1.185],[-1.157,-0.688],[-1.148,-0.615],[-1.141,-0.732],[-1.130,-0.805],[-1.119,-0.410],[-1.113,-0.644],[-1.108,-0.541],[-1.097,-0.922],[-1.091,-0.732],[-1.086,-0.571],[-1.075,-1.127],[-1.069,-0.483],[-1.064,-0.659],[-1.060,-0.863],[-1.053,-0.600],[-1.047,-0.746],[-1.042,-0.483],[-1.038,-0.951],[-1.031,-0.556],[-1.025,-0.688],[-1.020,-0.834],[-1.013,-0.512],[-1.009,-0.629],[-1.002,-0.746],[-0.998,-0.893],[-0.993,-0.571],[-0.987,-0.688],[-0.980,-0.805],[-0.976,-0.600],[-0.971,-0.483],[-0.965,-0.746],[-0.958,-0.878],[-0.954,-0.629],[-0.947,-0.541],[-0.943,-0.717],[-0.936,-0.805],[-0.932,-0.585],[-0.921,-0.688],[-0.914,-0.937],[-0.910,-0.512],[-0.903,-0.776],[-0.897,-0.410],[-0.888,-0.629],[-0.883,-0.439],[-0.877,-0.541],[-0.870,-0.746],[-0.866,-0.659],[-0.855,-0.483],[-0.849,-0.600],[-0.844,-0.688],[-0.832,-0.571],[-0.817,-0.527],[-0.812,-0.585],[-0.790,-0.571],[-0.787,-0.820],[-0.775,-0.541],[-1.197,-1.427]];
const M_fitPerennial = [[-1.635,-1.753],[-0.711,-0.239]];
const M_fitAnnual = [[-1.635,-1.753],[-0.711,-0.341]];

// ---- N: lg RXA vs lg RRC ----
const N_annual = [[-2.008,-1.310],[-1.853,-1.295],[-1.814,-0.966],[-1.814,-1.259],[-1.787,-1.654],[-1.776,-1.142],[-1.710,-1.676],[-1.690,-0.490],[-1.710,-1.010],[-1.659,-1.127],[-1.644,-1.361],[-1.632,-0.922],[-1.620,-1.039],[-1.613,-1.259],[-1.605,-1.142],[-1.594,-0.981],[-1.582,-0.849],[-1.566,-1.098],[-1.555,-0.951],[-1.543,-0.893],[-1.535,-1.185],[-1.528,-1.039],[-1.516,-0.995],[-1.504,-1.142],[-1.497,-0.922],[-1.489,-1.083],[-1.477,-1.288],[-1.466,-0.981],[-1.458,-1.068],[-1.450,-0.863],[-1.439,-1.127],[-1.427,-0.951],[-1.419,-1.039],[-1.412,-1.215],[-1.400,-0.893],[-1.388,-1.098],[-1.381,-1.010],[-1.373,-1.244],[-1.361,-0.578],[-1.350,-0.951],[-1.342,-1.156],[-1.334,-0.834],[-1.323,-1.039],[-1.311,-0.937],[-1.303,-1.412],[-1.296,-1.098],[-1.284,-1.200],[-1.272,-0.981],[-1.264,-1.625],[-1.257,-0.922],[-1.245,-1.244],[-1.234,-0.805],[-1.226,-1.127],[-1.218,-0.849],[-1.206,-1.039],[-1.195,-1.171],[-1.187,-1.229],[-1.179,-1.273],[-1.168,-1.068],[-1.156,-1.434],[-1.148,-1.185],[-1.110,-1.376],[-1.110,-0.878],[-1.071,-1.332],[-1.052,-1.449],[-1.041,-1.302],[-0.987,-0.863],[-0.974,-0.995],[-0.924,-0.907],[-0.935,-1.515],[-0.897,-1.595]];
const N_perennial = [[-2.135,-0.644],[-2.116,-0.468],[-2.039,-0.512],[-2.027,-0.615],[-2.019,-0.571],[-1.969,-0.498],[-1.930,-0.556],[-1.892,-0.644],[-1.876,-0.527],[-1.845,-0.600],[-1.826,-0.402],[-1.814,-0.673],[-1.787,-0.541],[-1.768,-0.615],[-1.749,-0.571],[-1.729,-0.659],[-1.710,-0.454],[-1.690,-0.717],[-1.671,-0.600],[-1.659,-0.805],[-1.652,-0.541],[-1.632,-0.688],[-1.613,-0.761],[-1.605,-0.483],[-1.594,-0.629],[-1.582,-0.863],[-1.575,-0.571],[-1.566,-0.746],[-1.555,-0.688],[-1.543,-0.512],[-1.535,-0.615],[-1.528,-0.805],[-1.516,-0.424],[-1.504,-0.717],[-1.497,-0.571],[-1.489,-0.483],[-1.477,-0.893],[-1.466,-0.659],[-1.458,-0.776],[-1.450,-0.541],[-1.439,-0.732],[-1.427,-0.615],[-1.419,-0.512],[-1.412,-0.834],[-1.400,-0.717],[-1.388,-0.600],[-1.381,-1.215],[-1.373,-0.688],[-1.361,-0.556],[-1.350,-0.776],[-1.342,-0.629],[-1.323,-0.717],[-1.311,-0.951],[-1.303,-0.585],[-1.292,-1.200],[-1.284,-0.659],[-1.272,-0.746],[-1.257,-0.410],[-1.245,-0.600],[-1.226,-0.688],[-1.206,-0.629],[-1.187,-0.805],[-1.168,-0.512],[-1.090,-0.805],[-1.071,-0.922],[-0.994,-0.937],[-0.974,-0.981],[-1.787,-1.420],[-1.575,-1.127],[-1.466,-1.215]];
const N_fitPerennial = [[-2.252,-0.217],[-0.831,-1.139]];

// ---- O: lg RXA vs lg RPA ----
const O_annual = [[-2.113,-1.295],[-2.057,-1.515],[-1.981,-1.324],[-1.932,-1.134],[-1.906,-1.668],[-1.894,-0.878],[-1.857,-1.595],[-1.842,-1.639],[-1.800,-0.951],[-1.774,-1.625],[-1.781,-1.346],[-1.717,-0.878],[-1.668,-1.207],[-1.653,-1.434],[-1.642,-1.390],[-1.623,-1.171],[-1.604,-0.893],[-1.592,-0.951],[-1.577,-1.185],[-1.566,-1.215],[-1.555,-1.010],[-1.547,-1.141],[-1.528,-0.937],[-1.517,-0.483],[-1.509,-1.288],[-1.502,-1.068],[-1.491,-1.405],[-1.479,-0.834],[-1.472,-0.981],[-1.464,-1.449],[-1.453,-1.098],[-1.442,-0.878],[-1.434,-1.010],[-1.426,-1.244],[-1.415,-1.068],[-1.404,-1.361],[-1.396,-0.951],[-1.389,-1.156],[-1.377,-1.039],[-1.366,-1.244],[-1.358,-0.922],[-1.347,-1.127],[-1.340,-1.010],[-1.328,-1.259],[-1.321,-0.863],[-1.313,-1.083],[-1.302,-0.951],[-1.291,-1.156],[-1.283,-0.834],[-1.275,-1.288],[-1.264,-0.893],[-1.253,-1.039],[-1.245,-1.317],[-1.238,-0.951],[-1.226,-1.442],[-1.223,-0.585],[-1.215,-0.981],[-1.200,-0.863],[-1.185,-0.922],[-1.162,-0.805],[-1.140,-1.039],[-1.125,-0.937],[-1.113,-1.273],[-1.094,-1.098],[-1.075,-1.141],[-1.057,-1.010],[-1.038,-1.083],[-1.019,-0.951],[-1.000,-0.922],[-0.943,-1.039],[-0.906,-1.068],[-0.868,-1.054],[-0.838,-1.054],[-1.038,-1.127]];
const O_perennial = [[-2.170,-0.717],[-2.158,-0.600],[-2.143,-0.512],[-2.094,-0.659],[-2.019,-0.805],[-2.008,-0.878],[-1.981,-0.717],[-1.943,-0.644],[-1.925,-0.732],[-1.894,-0.424],[-1.879,-0.673],[-1.857,-0.600],[-1.842,-1.215],[-1.819,-0.659],[-1.792,-0.834],[-1.774,-0.615],[-1.755,-0.424],[-1.736,-0.717],[-1.717,-0.629],[-1.698,-0.820],[-1.679,-0.541],[-1.660,-0.746],[-1.642,-0.659],[-1.623,-0.863],[-1.604,-0.585],[-1.585,-0.410],[-1.566,-0.688],[-1.547,-0.805],[-1.528,-0.615],[-1.509,-0.746],[-1.491,-0.541],[-1.479,-0.863],[-1.464,-0.659],[-1.453,-0.483],[-1.442,-0.776],[-1.426,-0.600],[-1.415,-0.951],[-1.404,-0.688],[-1.389,-0.512],[-1.377,-0.805],[-1.366,-1.420],[-1.358,-0.600],[-1.340,-0.717],[-1.321,-0.483],[-1.302,-0.834],[-1.283,-0.629],[-1.264,-0.746],[-1.245,-0.893],[-1.226,-0.541],[-1.208,-0.688],[-1.189,-0.805],[-1.170,-0.615],[-1.151,-0.863],[-1.132,-0.571],[-1.113,-0.937],[-1.094,-0.746],[-1.075,-0.600],[-1.057,-0.761]];
const O_fitAnnual = [[-2.226,-1.761],[-0.762,-0.600]];

// ---- P: lg RPHA vs lg RRC ----
const P_annual = [[-2.010,-1.291],[-1.867,-1.274],[-1.867,-1.350],[-1.853,-1.410],[-1.815,-0.949],[-1.815,-1.316],[-1.797,-1.515],[-1.783,-1.179],[-1.710,-1.598],[-1.710,-1.000],[-1.692,-1.136],[-1.668,-1.175],[-1.650,-1.372],[-1.633,-1.111],[-1.615,-1.299],[-1.605,-1.316],[-1.591,-0.979],[-1.580,-1.094],[-1.570,-1.060],[-1.563,-1.103],[-1.552,-1.197],[-1.545,-1.009],[-1.535,-1.179],[-1.521,-1.274],[-1.510,-1.043],[-1.500,-1.085],[-1.493,-0.997],[-1.486,-1.197],[-1.475,-1.136],[-1.465,-1.214],[-1.458,-1.094],[-1.440,-1.026],[-1.430,-1.145],[-1.423,-1.060],[-1.416,-1.179],[-1.405,-1.248],[-1.395,-1.359],[-1.388,-1.111],[-1.381,-1.231],[-1.370,-1.162],[-1.360,-1.077],[-1.353,-1.265],[-1.346,-1.197],[-1.335,-1.316],[-1.325,-1.145],[-1.318,-1.214],[-1.311,-1.077],[-1.300,-1.393],[-1.290,-1.248],[-1.283,-1.419],[-1.276,-1.094],[-1.265,-1.197],[-1.255,-1.359],[-1.248,-1.248],[-1.230,-1.274],[-1.220,-1.197],[-1.213,-1.368],[-1.196,-1.385],[-1.178,-1.248],[-1.160,-1.265],[-1.150,-1.214],[-1.125,-1.111],[-1.108,-1.350],[-1.090,-1.051],[-1.073,-1.231],[-1.055,-1.282],[-1.038,-1.419],[-1.004,-1.077],[-0.976,-1.205],[-0.969,-1.051],[-0.948,-1.547],[-0.923,-1.179],[-0.913,-1.556],[-0.923,-1.128],[-1.269,-1.513]];
const P_perennial = [[-2.147,-0.983],[-2.133,-1.060],[-2.052,-1.068],[-2.042,-1.171],[-2.024,-1.000],[-1.976,-1.009],[-1.930,-1.017],[-1.885,-1.000],[-1.878,-0.923],[-1.850,-0.838],[-1.850,-0.880],[-1.836,-1.111],[-1.825,-1.026],[-1.808,-1.060],[-1.797,-1.197],[-1.773,-0.855],[-1.755,-0.974],[-1.738,-1.051],[-1.731,-1.274],[-1.720,-0.915],[-1.710,-0.949],[-1.696,-0.906],[-1.685,-1.009],[-1.668,-1.060],[-1.650,-0.957],[-1.633,-1.026],[-1.615,-0.838],[-1.605,-0.991],[-1.591,-1.094],[-1.580,-0.940],[-1.570,-1.051],[-1.556,-0.889],[-1.545,-0.949],[-1.535,-1.162],[-1.528,-0.778],[-1.521,-0.915],[-1.510,-0.872],[-1.500,-0.991],[-1.493,-0.846],[-1.486,-0.949],[-1.475,-1.197],[-1.465,-1.026],[-1.458,-0.889],[-1.440,-0.838],[-1.430,-1.077],[-1.423,-0.923],[-1.416,-0.974],[-1.405,-0.872],[-1.395,-0.744],[-1.388,-1.026],[-1.381,-0.906],[-1.370,-0.957],[-1.360,-0.872],[-1.353,-1.094],[-1.346,-0.923],[-1.335,-0.991],[-1.325,-0.821],[-1.318,-1.128],[-1.311,-0.940],[-1.300,-1.026],[-1.290,-0.803],[-1.283,-0.761],[-1.276,-0.974],[-1.265,-0.872],[-1.255,-1.009],[-1.241,-0.906],[-1.230,-0.974],[-1.220,-1.111],[-1.206,-0.889],[-1.196,-1.009],[-1.178,-0.923],[-1.160,-1.128],[-1.108,-0.838],[-1.080,-0.897],[-1.062,-1.171],[-0.986,-1.179],[-0.969,-1.060]];

// ---- Q: lg RRC vs lg RPA ----
const Q_annual = [[-2.105,-1.053],[-2.055,-0.939],[-1.977,-1.046],[-1.938,-1.389],[-1.899,-1.710],[-1.891,-1.089],[-1.860,-0.896],[-1.832,-1.796],[-1.793,-1.289],[-1.782,-1.046],[-1.743,-1.246],[-1.727,-1.131],[-1.696,-1.231],[-1.677,-1.274],[-1.657,-1.046],[-1.639,-1.331],[-1.618,-1.160],[-1.599,-1.546],[-1.587,-0.946],[-1.579,-1.374],[-1.571,-1.203],[-1.560,-1.817],[-1.548,-1.317],[-1.540,-1.174],[-1.521,-1.489],[-1.509,-1.846],[-1.501,-1.631],[-1.494,-1.231],[-1.482,-1.403],[-1.470,-1.289],[-1.462,-1.346],[-1.455,-1.174],[-1.443,-1.246],[-1.431,-1.431],[-1.423,-1.317],[-1.416,-1.574],[-1.404,-1.231],[-1.392,-1.660],[-1.384,-1.346],[-1.377,-1.489],[-1.365,-1.174],[-1.353,-1.289],[-1.346,-1.774],[-1.338,-1.403],[-1.326,-1.246],[-1.314,-1.603],[-1.307,-1.189],[-1.299,-1.131],[-1.287,-1.474],[-1.275,-0.903],[-1.268,-1.317],[-1.256,-1.231],[-1.248,-2.003],[-1.236,-1.374],[-1.229,-1.060],[-1.221,-1.874],[-1.209,-1.317],[-1.197,-1.517],[-1.190,-0.989],[-1.170,-1.346],[-1.151,-1.203],[-1.131,-1.546],[-1.112,-1.246],[-1.092,-1.460],[-1.073,-1.717],[-1.053,-1.231],[-1.026,-1.660],[-1.014,-1.346],[-0.995,-1.317],[-0.937,-1.246],[-0.937,-1.546],[-0.937,-1.617],[-0.906,-1.410],[-0.878,-1.374],[-0.839,-1.324]];
const Q_perennial = [[-2.171,-1.210],[-2.171,-1.389],[-2.136,-1.531],[-2.105,-1.346],[-2.016,-1.260],[-1.988,-1.424],[-1.977,-1.731],[-1.949,-1.846],[-1.930,-1.374],[-1.910,-1.217],[-1.891,-1.831],[-1.860,-1.103],[-1.852,-1.174],[-1.832,-1.460],[-1.813,-1.231],[-1.793,-1.346],[-1.782,-1.674],[-1.774,-1.146],[-1.755,-1.489],[-1.743,-1.260],[-1.727,-1.517],[-1.716,-1.174],[-1.704,-1.731],[-1.696,-1.974],[-1.688,-1.346],[-1.677,-1.546],[-1.665,-1.774],[-1.657,-1.403],[-1.639,-1.289],[-1.626,-1.831],[-1.618,-1.489],[-1.599,-1.660],[-1.579,-2.031],[-1.571,-1.403],[-1.560,-1.831],[-1.548,-1.574],[-1.540,-1.060],[-1.532,-1.689],[-1.521,-1.489],[-1.509,-1.317],[-1.501,-0.960],[-1.494,-1.874],[-1.482,-1.631],[-1.470,-1.717],[-1.462,-0.974],[-1.455,-1.403],[-1.443,-1.574],[-1.431,-2.046],[-1.423,-1.517],[-1.416,-1.317],[-1.404,-2.131],[-1.392,-0.946],[-1.384,-2.017],[-1.377,-1.431],[-1.365,-1.660],[-1.353,-1.846],[-1.346,-1.074],[-1.338,-1.489],[-1.326,-1.889],[-1.314,-1.289],[-1.307,-2.046],[-1.299,-1.574],[-1.287,-1.403],[-1.268,-1.760],[-1.248,-1.331],[-1.229,-1.831],[-1.209,-1.631],[-1.190,-1.489],[-1.170,-1.389],[-1.151,-1.231],[-1.131,-1.089],[-1.112,-1.831],[-1.092,-1.589],[-1.073,-1.846],[-1.053,-1.546],[-1.112,-1.374]];
const Q_fitAnnual = [[-2.261,-0.571],[-0.769,-1.903]];

// ---------------- layout ----------------
const page = document.getElementById('page');
const COLS = [[224, 1180], [1463, 2313], [2631, 3511]];
const ROWS = [[75, 784], [995, 1702], [1953, 2677], [2874, 3596], [3789, 4478], [4678, 5394]];
const rlab = s => 'lg <i>R</i><sub>' + s + '</sub>';

function fmt(v) {
  if (v === 0) return '0';
  return (v < 0 ? '−' : '') + Math.abs(v).toFixed(1);
}

const panels = [
  { id: 'A', c: 0, r: 0, x: [0.914, 3.0], y: [-0.8, -0.2], xt: A_xTicks, yt: tw_yTicks, an: A_annual, pe: A_perennial,
    fits: [[A_fitAnnual, RED], [A_fitPerennial, GREEN]], xl: 'lg STL', yl: 'lg TWD', ly: 28 },
  { id: 'B', c: 1, r: 0, x: [-0.83, -0.12], y: [-0.8, -0.2], xt: B_xTicks, yt: tw_yTicks, an: B_annual, pe: B_perennial,
    fits: [[B_fitAnnual, RED], [B_fitPerennial, GREEN]], xl: 'lg TDMC', yl: 'lg TWD', ly: 28 },
  { id: 'C', c: 2, r: 0, x: [-1.74, -0.3], y: [-0.8, 0], xt: xa_xTicks, yt: tw0_yTicks, an: C_annual, pe: C_perennial,
    fits: [[C_fitAnnual, RED], [C_fitPerennial, GREEN]], xl: rlab('XA'), yl: 'lg TWD', ly: 28 },
  { id: 'D', c: 0, r: 1, x: [-1.653, -0.6], y: [-0.8, 0], xt: pha6_xTicks, xlab: D_xLabels, yt: tw0_yTicks, an: D_annual, pe: D_perennial,
    fits: [[D_fitAnnual1, RED], [D_fitAnnual2, RED], [D_fitPerennial1, GREEN], [D_fitPerennial2, GREEN]], xl: rlab('PHA'), yl: 'lg TWD', ly: 24 },
  { id: 'E', c: 1, r: 1, x: [-2.256, -0.8], y: [-0.8, -0.2], xt: r_xTicks, yt: tw_yTicks, an: E_annual, pe: E_perennial,
    fits: [], xl: rlab('PA'), yl: 'lg TWD', ly: 33 },
  { id: 'F', c: 2, r: 1, x: [-0.817, 0], y: [1.09, 3.5], xt: F_xTicks, yt: stl35_yTicks, an: F_annual, pe: F_perennial,
    fits: [[F_fitAnnual, RED]], xl: 'lg TDMC', yl: 'lg STL', ly: 29 },
  { id: 'G', c: 0, r: 2, x: [-1.767, -0.3], y: [1.084, 3.5], xt: xa_xTicks, yt: stl35_yTicks, an: G_annual, pe: G_perennial,
    fits: [[G_fitAnnual, RED], [G_fitPerennial, GREEN]], xl: rlab('XA'), yl: 'lg STL', ly: -18 },
  { id: 'H', c: 1, r: 2, x: [-1.647, -0.6], y: [1.1, 3.0], xt: pha6_xTicks, yt: stl30_yTicks, an: H_annual, pe: H_perennial,
    fits: [[H_fitAnnual1, RED], [H_fitAnnual2, RED], [H_fitPerennial, GREEN]], xl: rlab('PHA'), yl: 'lg STL', ly: -18 },
  { id: 'I', c: 2, r: 2, right: 3470, x: [-2.248, -0.8], y: [1.1, 3.0], xt: r_xTicks, yt: stl30_yTicks, an: I_annual, pe: I_perennial,
    fits: [[I_fitAnnual, RED], [I_fitPerennial, GREEN]], xl: rlab('PA'), yl: 'lg STL', ly: -18 },
  { id: 'J', c: 0, r: 3, x: [-1.767, -0.3], y: [-0.83, 0.2], xt: xa_xTicks, yt: J_yTicks, an: J_annual, pe: J_perennial,
    fits: [[J_fitAnnual, RED, 4]], xl: rlab('XA'), yl: 'lg TDMC', ly: 32 },
  { id: 'K', c: 1, r: 3, x: [-1.641, -0.714], y: [-0.82, 0], xt: pha5_xTicks, yt: tw0_yTicks, an: K_annual, pe: K_perennial,
    fits: [], xl: rlab('PHA'), yl: 'lg TDMC', ly: 34 },
  { id: 'L', c: 2, r: 3, x: [-2.262, -0.8], y: [-0.826, 0], xt: r_xTicks, yt: tw0_yTicks, an: L_annual, pe: L_perennial,
    fits: [[L_fitPerennial, GREEN]], xl: rlab('RC'), yl: 'lg TDMC', ly: 31 },
  { id: 'M', c: 0, r: 4, x: [-1.64, -0.712], y: [-1.753, 0], xt: pha5_xTicks, yt: rxa_yTicks, an: M_annual, pe: M_perennial,
    fits: [[M_fitPerennial, GREEN], [M_fitAnnual, RED]], xl: rlab('PHA'), yl: rlab('XA'), ly: 26 },
  { id: 'N', c: 1, r: 4, x: [-2.25, -0.8], y: [-1.753, 0], xt: r_xTicks, yt: rxa_yTicks, an: N_annual, pe: N_perennial,
    fits: [[N_fitPerennial, GREEN]], xl: rlab('RC'), yl: rlab('XA'), ly: 26 },
  { id: 'O', c: 2, r: 4, x: [-2.262, -0.8], y: [-1.753, 0], xt: r_xTicks, yt: rxa_yTicks, an: O_annual, pe: O_perennial,
    fits: [[O_fitAnnual, RED]], xl: rlab('PA'), yl: 'lg <i>RXA</i>', ly: 29 },
  { id: 'P', c: 0, r: 5, x: [-2.267, -0.8], y: [-1.642, -0.6], xt: r_xTicks, yt: P_yTicks, an: P_annual, pe: P_perennial,
    fits: [], xl: rlab('RC'), yl: rlab('PHA'), ly: 2 },
  { id: 'Q', c: 1, r: 5, x: [-2.26, -0.8], y: [-2.23, -0.5], xt: r_xTicks, yt: Q_yTicks, an: Q_annual, pe: Q_perennial,
    fits: [[Q_fitAnnual, RED]], xl: rlab('PA'), yl: rlab('RC'), ly: 6 }
];

const R2 = '<i>R</i><sup>2</sup>';
const notes = [
  ['Common slope = −0.255', 374, 30, '#000'],
  [R2 + ' = 0.397<sup>***</sup>', 374, 102, '#000'],
  ['slope = −0.755, ' + R2 + ' = 0.127<sup>***</sup>', 1588, 27, RED],
  ['slope = −0.981, ' + R2 + ' = 0.237<sup>***</sup>', 1588, 99, GREEN],
  ['Common slope = 0.326', 2778, 27, '#000'],
  [R2 + ' = 0.075<sup>***</sup>', 2778, 102, '#000'],
  ['Common slope = 0.546', 374, 1009, '#000'],
  [R2 + ' = 0.074<sup>***</sup>', 374, 1084, '#000'],
  ['slope = −2.828, ' + R2 + ' = 0.115<sup>***</sup>', 2778, 1033, RED],
  ['Common slope = −1.278', 374, 1931, '#000'],
  [R2 + ' = 0.077<sup>***</sup>', 374, 2006, '#000'],
  ['Common slope = −2.140', 1588, 1931, '#000'],
  [R2 + ' = 0.026<sup>*</sup>', 1588, 2006, '#000'],
  ['Common slope = 1.228', 2778, 1931, '#000'],
  [R2 + ' = 0.262<sup>***</sup>', 2778, 2006, '#000'],
  ['slope = 0.588, ' + R2 + ' = 0.052<sup>*</sup>', 374, 2922, RED],
  ['slope = −0.251, ' + R2 + ' = 0.075<sup>*</sup>', 2778, 2925, '#000'],
  ['Common slope = 1.675', 374, 3818, '#000'],
  [R2 + ' = 0.511<sup>***</sup>', 374, 3889, '#000'],
  ['slope = −0.640, ' + R2 + ' = 0.114<sup>***</sup>', 1588, 3832, GREEN],
  ['slope = 0.789, ' + R2 + ' = 0.106<sup>***</sup>', 2778, 3838, RED],
  ['slope = −0.886, ' + R2 + ' = 0.068<sup>**</sup>', 1588, 4687, RED]
];

function addText(html, x, y, o) {
  const d = document.createElement('div');
  d.className = 'txt';
  d.innerHTML = html;
  d.style.left = x + 'px';
  d.style.top = y + 'px';
  d.style.fontSize = (o.size || 66) + 'px';
  if (o.color) d.style.color = o.color;
  if (o.bold) d.style.fontWeight = 'bold';
  if (o.center) d.style.transform = 'translate(-50%,-50%)' + (o.rot ? ' rotate(-90deg)' : '');
  else d.style.transform = 'translateY(-50%)';
  page.appendChild(d);
}

// inward tick marks on both axes
const inwardTicks = {
  id: 'inwardTicks',
  beforeDatasetsDraw(chart) {
    const { ctx, chartArea: a, scales: { x, y } } = chart;
    ctx.save();
    ctx.strokeStyle = '#000';
    ctx.lineWidth = 3;
    ctx.beginPath();
    x.ticks.forEach(t => {
      const px = x.getPixelForValue(t.value);
      ctx.moveTo(px, a.bottom);
      ctx.lineTo(px, a.bottom - 17);
    });
    y.ticks.forEach(t => {
      const py = y.getPixelForValue(t.value);
      ctx.moveTo(a.left, py);
      ctx.lineTo(a.left + 17, py);
    });
    ctx.stroke();
    ctx.restore();
  }
};

function axisOpts(isX, min, max, ticks, labels, size) {
  return {
    type: 'linear',
    position: isX ? 'bottom' : 'left',
    min: min,
    max: max,
    grid: { display: false, drawTicks: false },
    border: { display: true, color: '#000', width: isX ? 5 : 3 },
    ticks: {
      autoSkip: false, maxRotation: 0, minRotation: 0,
      padding: isX ? 10 : 18,
      color: '#000',
      font: { family: FONT, size: 62 },
      callback: (v, i) => labels[i]
    },
    afterBuildTicks: s => { s.ticks = ticks.map(v => ({ value: v })); },
    afterFit: s => { if (isX) s.height = size; else s.width = size; }
  };
}

const toXY = p => ({ x: p[0], y: p[1] });

function makePanel(p) {
  const L = COLS[p.c][0], R = p.right || COLS[p.c][1], T = ROWS[p.r][0], B = ROWS[p.r][1];
  const padL = 200, padR = 70, padT = 60, padB = 110;
  const W = R - L + padL + padR, H = B - T + padT + padB;
  const cv = document.createElement('canvas');
  cv.width = W;
  cv.height = H;
  cv.style.cssText = 'position:absolute;left:' + (L - padL) + 'px;top:' + (T - padT) + 'px;width:' + W + 'px;height:' + H + 'px';
  page.appendChild(cv);

  const datasets = [];
  p.fits.forEach(f => datasets.push({
    data: f[0].map(toXY), showLine: true, borderColor: f[1], borderWidth: f[2] || 8,
    pointRadius: 0, fill: false, order: 0, clip: false
  }));
  datasets.push({ data: p.an.map(toXY), pointStyle: 'circle', pointRadius: 12, backgroundColor: RED,
    borderWidth: 0, order: 1, clip: false });
  datasets.push({ data: p.pe.map(toXY), pointStyle: 'triangle', pointRadius: 18, backgroundColor: GREEN,
    borderWidth: 0, order: 2, clip: false });

  const xlab = p.xlab || p.xt.map(fmt);
  const ylab = p.yt.map(fmt);
  new Chart(cv, {
    type: 'scatter',
    data: { datasets: datasets },
    options: {
      responsive: false, animation: false, devicePixelRatio: 1, events: [],
      layout: { padding: { left: 0, top: padT, right: padR, bottom: 0 } },
      plugins: { legend: { display: false }, tooltip: { enabled: false } },
      scales: {
        x: axisOpts(true, p.x[0], p.x[1], p.xt, xlab, padB),
        y: axisOpts(false, p.y[0], p.y[1], p.yt, ylab, padL)
      }
    },
    plugins: [inwardTicks]
  });

  addText(p.id, L + 28, T + p.ly, { bold: true });
  addText(p.xl, (L + R) / 2, B + 122, { center: true });
  addText(p.yl, L - 195, (T + B) / 2, { center: true, rot: true });
}

Chart.defaults.font.family = FONT;
panels.forEach(makePanel);
notes.forEach(n => addText(n[0], n[1], n[2], { color: n[3] }));

// legend
const dot = document.createElement('div');
dot.style.cssText = 'position:absolute;left:2652px;top:4969px;width:23px;height:23px;border-radius:50%;background:' + RED;
page.appendChild(dot);
const tri = document.createElement('div');
tri.style.cssText = 'position:absolute;left:2648px;top:5053px;width:0;height:0;border-left:15px solid transparent;border-right:15px solid transparent;border-bottom:27px solid ' + GREEN;
page.appendChild(tri);
addText('当年生枝 Annual twig', 2708, 4981, {});
addText('多年生枝 Perennial twig', 2708, 5063, {});
</script>
</body>
</html>
